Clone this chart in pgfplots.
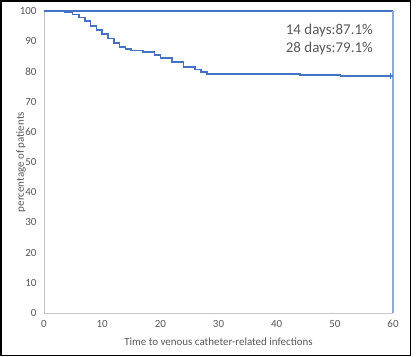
\documentclass[border=0pt]{standalone}
\usepackage{pgfplots}
\pgfplotsset{compat=1.18}
\usepackage{fontspec}
\setmainfont{Carlito}
\definecolor{kmblue}{HTML}{4472C4}
\definecolor{lightblue}{HTML}{8FAADC}
\definecolor{txtgray}{HTML}{595959}
\definecolor{axgray}{HTML}{C8C8C8}
\begin{document}
\begin{tikzpicture}
\path[fill=white] (0,0) rectangle (417bp,-357bp);
\draw[black, line width=1.5bp] (0.75bp,-0.75bp) rectangle (410.5bp,-355.5bp);
\begin{axis}[
  at={(44bp,-313bp)}, anchor=south west,
  scale only axis, width=349bp, height=302bp,
  xmin=0, xmax=60, ymin=0, ymax=100,
  clip=false,
  axis x line=bottom, axis y line=left,
  axis line style={axgray, line width=1bp, -},
  xtick={0,10,...,60}, ytick={0,10,...,100},
  major tick length=0pt,
  /pgf/number format/assume math mode=true,
  tick label style={font=\fontsize{11}{13}\selectfont, text=txtgray},
  xticklabel style={yshift=-4bp},
  yticklabel style={xshift=-4bp},
  xlabel={Time to venous catheter-related infections},
  ylabel={percentage of patients},
  label style={font=\fontsize{11}{13}\selectfont, text=txtgray},
  xlabel style={at={(axis description cs:0.5,0)}, anchor=center, yshift=-29bp},
  ylabel style={at={(axis description cs:0,0.5)}, anchor=center, yshift=23bp},
]
\addplot[kmblue, line width=1.2bp] coordinates {(0,100)(60,100)};
\addplot[lightblue, line width=1.2bp] coordinates {(60,100)(60,0)};
\addplot[kmblue, line width=1.6bp, const plot] coordinates {
(0,100)(3.6,99.7)(4.9,98.9)(6,97.9)(7,96.6)(8,95.1)(9,93.7)(10,92.3)(11,90.9)(12,89.5)(13,88.1)(14,87.4)(15,86.9)(17,86.4)(19,85.5)(20,84.5)(22,83.2)(24,81.4)(26,80.6)(27,79.8)(28,79.1)(44,78.9)(51,78.5)(60,78.5)};
\addplot[kmblue, line width=1bp, only marks, mark=|, mark size=3bp] coordinates {(59.5,78.5)};
\end{axis}
\node[anchor=east, text=txtgray, font=\fontsize{15}{18}\selectfont, inner sep=0pt] at (373bp,-31bp) {14 days:87.1\%};
\node[anchor=east, text=txtgray, font=\fontsize{15}{18}\selectfont, inner sep=0pt] at (373bp,-49bp) {28 days:79.1\%};
\end{tikzpicture}
\end{document}
